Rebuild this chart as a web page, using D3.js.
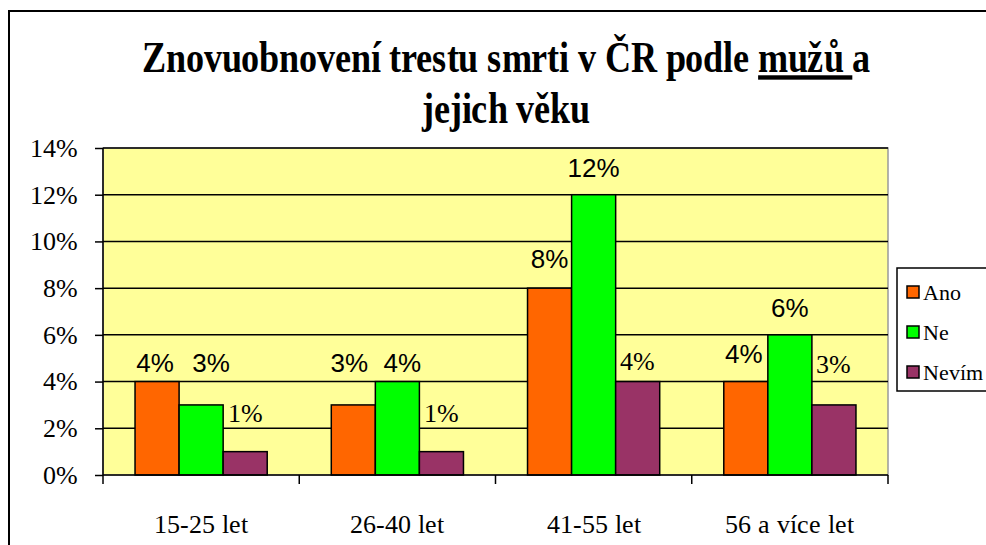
<!DOCTYPE html>
<html>
<head>
<meta charset="utf-8">
<script src="https://cdn.jsdelivr.net/npm/d3@7"></script>
<style>
  @font-face { font-family: "ChartSerif"; font-weight: 400;
    src: local("Liberation Serif"), local("LiberationSerif"), local("Tinos"); }
  @font-face { font-family: "ChartSerif"; font-weight: 700;
    src: local("Liberation Serif Bold"), local("LiberationSerif-Bold"), local("Tinos Bold"); }
</style>
</head>
<body style="margin:0">
<svg id="chart" width="986" height="545"></svg>
<script>
// data
var categories = ["15-25 let", "26-40 let", "41-55 let", "56 a více let"];
var seriesNames = ["Ano", "Ne", "Nevím"];
var ano = [4, 3, 8, 4];
var ne = [3, 4, 12, 6];
var nevim = [1, 1, 4, 3];
var yTicks = [0, 2, 4, 6, 8, 10, 12, 14];

var colors = ["#FF6600", "#00FF00", "#993366"];
var SERIF = "ChartSerif, 'Liberation Serif', 'Times New Roman', serif";
var SANS = "'Liberation Sans', Arial, sans-serif";

// manual label nudges (labels were dragged by hand in the original)
var labelLift = [[0, 23, 10, 9], [23, 0, 8, 8], [20, 20, 2, 22]];
var labelShift = [[-2, -4, 0, -2], [10, 5, 0, 0], [0, 0, 0, 0]];

var svg = d3.select("#chart");
var margin = {left: 103, top: 148, right: 888, bottom: 475};

var values = [ano, ne, nevim];

// outer frame
svg.append("rect")
    .attr("x", 9).attr("y", 11)
    .attr("width", 1200).attr("height", 800)
    .attr("fill", "none")
    .attr("stroke", "#000")
    .attr("stroke-width", 2);

// title (condensed like the original)
var titleG = svg.append("g");
var title = titleG.append("text")
    .attr("text-anchor", "middle")
    .attr("font-size", 44)
    .style("font-family", SERIF)
    .style("font-weight", "bold");
var l1 = title.append("tspan").attr("x", 0).attr("y", 72);
l1.append("tspan").text("Znovuobnovení trestu smrti v ČR podle ");
l1.append("tspan").attr("text-decoration", "underline").text("mužů ");
l1.append("tspan").text("a");
title.append("tspan").attr("x", 0).attr("y", 123).text("jejich věku");

function fitTitle(){
    var w = l1.node().getComputedTextLength();
    titleG.attr("transform", "translate(506,0) scale(" + (730 / w) + ",1)");
}
fitTitle();

var x0 = d3.scaleBand()
    .domain(categories)
    .range([margin.left, margin.right]);

var x1 = d3.scaleBand()
    .domain(seriesNames)
    .range([0, x0.bandwidth()])
    .paddingOuter(0.727)
    .paddingInner(0);

var y = d3.scaleLinear()
    .domain([0, 14])
    .range([margin.bottom, margin.top]);

// plot area
svg.append("rect")
    .attr("x", margin.left).attr("y", margin.top)
    .attr("width", margin.right - margin.left)
    .attr("height", margin.bottom - margin.top)
    .attr("fill", "#FFFF99")
    .attr("stroke", "#9a9a9a")
    .attr("stroke-width", 1.5);

// gridlines
svg.append("g")
    .selectAll("line")
    .data(yTicks.filter(function(d){ return d > 0; }))
    .enter().append("line")
    .attr("x1", margin.left).attr("x2", margin.right)
    .attr("y1", function(d){ return y(d); })
    .attr("y2", function(d){ return y(d); })
    .attr("stroke", "#000")
    .attr("stroke-width", 1.5);

// bars
var groups = svg.append("g")
    .selectAll("g")
    .data(seriesNames)
    .enter().append("g")
    .attr("fill", function(d, i){ return colors[i]; });

function rows(d, i){
    return values[i].map(function(v, j){
        return {series: d, si: i, cat: categories[j], ci: j, value: v};
    });
}

groups.selectAll("rect")
    .data(rows)
    .enter().append("rect")
    .attr("x", function(d){ return x0(d.cat) + x1(d.series); })
    .attr("y", function(d){ return y(d.value); })
    .attr("width", x1.bandwidth())
    .attr("height", function(d){ return y(0) - y(d.value); })
    .attr("stroke", "#000")
    .attr("stroke-width", 1.5);

// value labels
groups.selectAll("text")
    .data(rows)
    .enter().append("text")
    .attr("text-anchor", "middle")
    .attr("fill", "#000")
    .attr("font-size", 26)
    .style("font-family", function(d){ return d.si === 2 ? SERIF : SANS; })
    .attr("x", function(d){
        return x0(d.cat) + x1(d.series) + x1.bandwidth() / 2 + labelShift[d.si][d.ci];
    })
    .attr("y", function(d){ return y(d.value) - 10 - labelLift[d.si][d.ci]; })
    .text(function(d){ return d.value + "%"; });

// y axis
var yAxis = d3.axisLeft(y)
    .tickValues(yTicks)
    .tickSize(8)
    .tickPadding(17)
    .tickFormat(function(d){ return d + "%"; });

var gy = svg.append("g")
    .attr("transform", "translate(" + margin.left + ",0)")
    .call(yAxis);
gy.select(".domain").attr("stroke", "#000").attr("stroke-width", 1.5)
    .attr("d", "M0," + margin.top + "V" + margin.bottom);
gy.selectAll(".tick line").attr("stroke-width", 1.5);
gy.selectAll(".tick text")
    .attr("font-size", 26)
    .style("font-family", SERIF)
    .attr("fill", "#000");

// x axis
var xAxis = d3.axisBottom(x0)
    .tickSize(0)
    .tickPadding(40);
var gx = svg.append("g")
    .attr("transform", "translate(0," + margin.bottom + ")")
    .call(xAxis);
gx.select(".domain").attr("stroke", "#000").attr("stroke-width", 1.5)
    .attr("d", "M" + margin.left + ",0H" + margin.right);
gx.selectAll(".tick text")
    .attr("font-size", 26)
    .style("font-family", SERIF)
    .attr("fill", "#000");
// category boundary ticks
gx.append("g").selectAll("line")
    .data(categories.concat([null]))
    .enter().append("line")
    .attr("x1", function(d, i){ return margin.left + i * x0.step(); })
    .attr("x2", function(d, i){ return margin.left + i * x0.step(); })
    .attr("y1", 0).attr("y2", 9)
    .attr("stroke", "#000")
    .attr("stroke-width", 1.5);

// legend
var legend = svg.append("g");
legend.append("rect")
    .attr("x", 897).attr("y", 268)
    .attr("width", 200).attr("height", 123)
    .attr("fill", "#fff")
    .attr("stroke", "#000")
    .attr("stroke-width", 1.5);
var items = legend.selectAll("g.item")
    .data(seriesNames)
    .enter().append("g")
    .attr("class", "item")
    .attr("transform", function(d, i){ return "translate(907," + (292 + i * 40) + ")"; });
items.append("rect")
    .attr("x", 0).attr("y", -6)
    .attr("width", 12).attr("height", 12)
    .attr("fill", function(d, i){ return colors[i]; })
    .attr("stroke", "#000")
    .attr("stroke-width", 1.5);
items.append("text")
    .attr("x", 16).attr("y", 8)
    .attr("font-size", 22)
    .style("font-family", SERIF)
    .text(function(d){ return d; });

// local font faces may resolve after first layout
if (document.fonts && document.fonts.ready) {
    document.fonts.ready.then(fitTitle);
}
</script>
</body>
</html>
